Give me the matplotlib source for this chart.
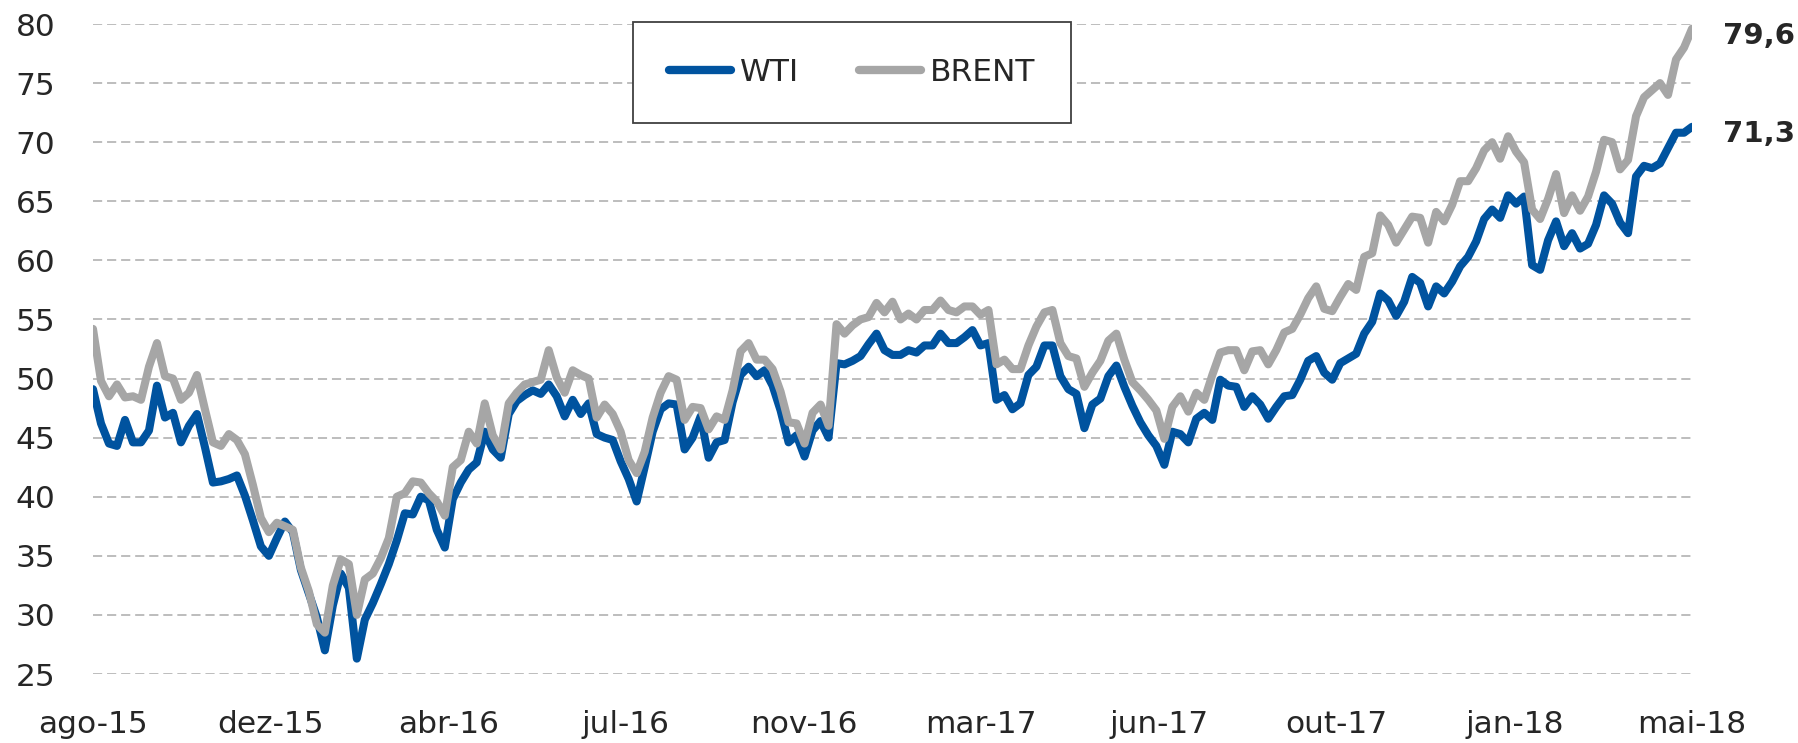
import numpy as np
import matplotlib
matplotlib.use("Agg")
import matplotlib.pyplot as plt

# Daily-ish prices (US$/barrel), Aug-2015 .. May-2018
wti = [
    49.1, 46.2, 44.5, 44.3, 46.5, 44.6, 44.6, 45.6, 49.4, 46.7,
    47.1, 44.6, 46.0, 47.0, 44.2, 41.2, 41.3, 41.5, 41.8, 40.1,
    38.0, 35.8, 35.0, 36.5, 37.9, 37.0, 33.8, 31.8, 29.8, 27.0,
    30.8, 33.5, 32.3, 26.3, 29.6, 31.0, 32.6, 34.3, 36.3, 38.6,
    38.5, 40.0, 39.7, 37.2, 35.7, 39.8, 41.2, 42.3, 42.9, 45.5,
    44.0, 43.3, 47.0, 48.1, 48.6, 49.0, 48.7, 49.5, 48.5, 46.8,
    48.2, 47.0, 47.9, 45.3, 45.0, 44.8, 43.0, 41.5, 39.6, 42.5,
    45.5, 47.4, 47.9, 47.8, 44.0, 45.0, 46.8, 43.3, 44.6, 44.8,
    48.0, 50.3, 51.0, 50.2, 50.7, 49.4, 47.3, 44.6, 45.2, 43.4,
    45.6, 46.4, 45.0, 51.3, 51.2, 51.5, 51.9, 52.9, 53.8, 52.4,
    52.0, 52.0, 52.4, 52.2, 52.8, 52.8, 53.8, 53.0, 53.0, 53.5,
    54.1, 52.8, 53.0, 48.2, 48.6, 47.4, 47.9, 50.3, 51.0, 52.8,
    52.8, 50.2, 49.1, 48.7, 45.8, 47.8, 48.3, 50.2, 51.1, 49.3,
    47.7, 46.3, 45.2, 44.3, 42.7, 45.5, 45.3, 44.6, 46.6, 47.1,
    46.5, 49.9, 49.4, 49.3, 47.6, 48.5, 47.8, 46.6, 47.6, 48.5,
    48.6, 49.9, 51.5, 51.9, 50.5, 49.9, 51.3, 51.7, 52.1, 53.8,
    54.8, 57.2, 56.6, 55.3, 56.5, 58.6, 58.1, 56.1, 57.8, 57.2,
    58.2, 59.5, 60.3, 61.6, 63.5, 64.3, 63.6, 65.5, 64.8, 65.4,
    59.6, 59.2, 61.7, 63.3, 61.2, 62.3, 61.0, 61.4, 63.0, 65.5,
    64.8, 63.2, 62.3, 67.1, 68.0, 67.8, 68.2, 69.5, 70.8, 70.8,
    71.3,
]

brent = [
    54.2, 49.8, 48.5, 49.5, 48.4, 48.5, 48.2, 51.0, 53.0, 50.2,
    50.0, 48.2, 48.8, 50.3, 47.4, 44.6, 44.3, 45.3, 44.8, 43.6,
    41.0, 38.2, 37.0, 37.8, 37.5, 37.2, 34.0, 32.0, 29.2, 28.5,
    32.5, 34.7, 34.3, 30.0, 33.0, 33.5, 34.8, 36.5, 40.0, 40.3,
    41.3, 41.2, 40.3, 39.6, 38.4, 42.5, 43.1, 45.5, 44.5, 47.9,
    45.2, 44.0, 47.9, 48.8, 49.5, 49.7, 49.9, 52.4, 50.1, 48.8,
    50.7, 50.3, 50.0, 46.7, 47.8, 47.0, 45.5, 43.1, 42.0, 43.8,
    46.7, 48.8, 50.2, 49.9, 46.5, 47.6, 47.5, 45.7, 46.8, 46.5,
    49.0, 52.3, 53.0, 51.6, 51.6, 50.8, 48.9, 46.3, 46.2, 44.5,
    47.1, 47.8, 46.0, 54.6, 53.8, 54.5, 55.0, 55.2, 56.4, 55.6,
    56.5, 55.0, 55.5, 55.0, 55.8, 55.8, 56.6, 55.8, 55.6, 56.1,
    56.1, 55.4, 55.8, 51.2, 51.6, 50.8, 50.8, 52.8, 54.4, 55.6,
    55.8, 53.0, 51.9, 51.7, 49.3, 50.5, 51.5, 53.2, 53.8, 51.6,
    49.7, 49.0, 48.2, 47.3, 44.9, 47.6, 48.5, 47.2, 48.8, 48.2,
    50.3, 52.2, 52.4, 52.4, 50.7, 52.3, 52.4, 51.2, 52.4, 53.9,
    54.2, 55.4, 56.8, 57.8, 55.9, 55.7, 56.9, 58.0, 57.5, 60.3,
    60.6, 63.8, 63.0, 61.5, 62.6, 63.7, 63.6, 61.5, 64.1, 63.3,
    64.7, 66.7, 66.7, 67.8, 69.3, 70.0, 68.6, 70.5, 69.2, 68.3,
    64.3, 63.5, 65.2, 67.3, 64.0, 65.5, 64.2, 65.4, 67.5, 70.2,
    70.0, 67.7, 68.5, 72.2, 73.8, 74.4, 75.0, 74.0, 77.0, 78.0,
    79.6,
]

tick_labels = ["ago-15", "dez-15", "abr-16", "jul-16", "nov-16",
               "mar-17", "jun-17", "out-17", "jan-18", "mai-18"]
series_names = ["WTI", "BRENT"]
end_labels = ["71,3", "79,6"]

C_WTI = "#00539F"
C_BRENT = "#A6A6A6"
TXT = "#262626"

W, H = 1798, 743
fig = plt.figure(figsize=(W / 100, H / 100), dpi=100)
left, right = 93 / W, 1692 / W
top, bottom = 1 - 24 / H, 1 - 674 / H
ax = fig.add_axes([left, bottom, right - left, top - bottom])

x = np.arange(len(wti))
l1, = ax.plot(x, wti, color=C_WTI, lw=5.8, solid_joinstyle="round",
              solid_capstyle="round", label=series_names[0], zorder=3)
l2, = ax.plot(x, brent, color=C_BRENT, lw=5.8, solid_joinstyle="round",
              solid_capstyle="round", label=series_names[1], zorder=4)

ax.set_xlim(0, len(wti) - 1)
ax.set_ylim(25, 80)
ax.set_yticks(np.arange(25, 81, 5))
ax.set_xticks(np.linspace(0, len(wti) - 1, len(tick_labels)))
ax.set_xticklabels(tick_labels)

ax.grid(axis="y", color="#ABABAB", lw=1.1, linestyle=(0, (6.0, 3.2)))
ax.grid(axis="x", visible=False)
ax.set_axisbelow(True)
for s in ax.spines.values():
    s.set_visible(False)
ax.tick_params(axis="both", length=0, labelsize=22.5, colors=TXT)
ax.tick_params(axis="y", pad=27)
ax.tick_params(axis="x", pad=26)

# end-value labels
for series, lab in ((wti, end_labels[0]), (brent, end_labels[1])):
    ax.annotate(lab, xy=(len(series) - 1, series[-1]), xytext=(22, -5),
                textcoords="offset points", ha="left", va="center",
                fontsize=21, fontweight="bold", color=TXT,
                annotation_clip=False)

leg = fig.legend(handles=[l1, l2], loc="upper center", ncol=2,
                 bbox_to_anchor=(852 / W, 1 - 22 / H),
                 bbox_transform=fig.transFigure,
                 fontsize=22.5, frameon=True, fancybox=False,
                 handlelength=1.98, handletextpad=0.3, columnspacing=1.9,
                 borderpad=1.15, borderaxespad=0)
leg.get_frame().set_edgecolor("#404040")
leg.get_frame().set_linewidth(1.3)
leg.get_frame().set_alpha(1)
for t in leg.get_texts():
    t.set_color(TXT)
for h in leg.legend_handles:
    h.set_linewidth(6)
    h.set_solid_capstyle("round")

fig.savefig("out.png", dpi=100)
